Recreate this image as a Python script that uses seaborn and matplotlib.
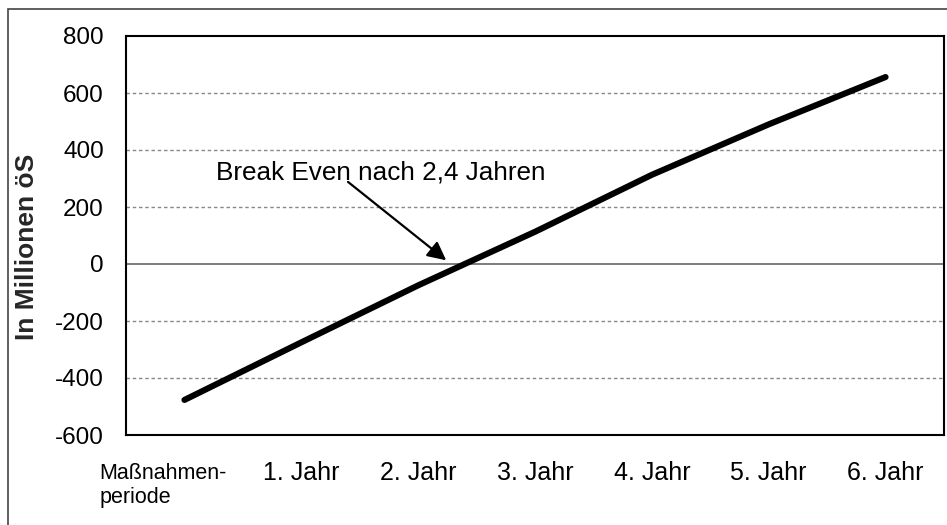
import matplotlib
matplotlib.use("Agg")
import matplotlib.pyplot as plt
import matplotlib.transforms as mtransforms
from matplotlib.patches import Rectangle
import seaborn as sns
import pandas as pd

# ---- data ----
categories = ["Maßnahmen-\nperiode", "1. Jahr", "2. Jahr", "3. Jahr", "4. Jahr", "5. Jahr", "6. Jahr"]
values = [-477, -275, -75, 113, 313, 490, 656]
y_ticks = [-600, -400, -200, 0, 200, 400, 600, 800]
y_label = "In Millionen öS"
annotation_text = "Break Even nach 2,4 Jahren"

sns.set_style("white")
plt.rcParams["font.family"] = ["Liberation Sans", "DejaVu Sans"]

df = pd.DataFrame({"pos": range(len(categories)), "value": values})

fig = plt.figure(figsize=(9.47, 5.25), dpi=100)
ax = fig.add_axes([126 / 947, 1 - 435 / 525, (944 - 126) / 947, (435 - 36) / 525])

# grid
for yt in y_ticks:
    if yt == 0:
        ax.axhline(yt, color="#666666", lw=1.2, zorder=1)
    elif yt not in (y_ticks[0], y_ticks[-1]):
        ax.axhline(yt, color="#888888", lw=1.0, linestyle=(0, (2.5, 2)), zorder=1)

sns.lineplot(data=df, x="pos", y="value", ax=ax, color="black", linewidth=4.4,
             zorder=3, legend=False)

ax.set_xlim(-0.5, len(categories) - 0.5)
ax.set_ylim(y_ticks[0], y_ticks[-1])
ax.set_yticks(y_ticks)
ax.set_yticklabels([str(v) for v in y_ticks], fontsize=17.5)
ax.tick_params(axis="y", length=6, width=1, color="#777777", pad=10, labelcolor="black")

ax.set_xticks(range(len(categories)))
ax.set_xticklabels(categories, fontsize=18)
ax.tick_params(axis="x", length=0, pad=19, labelcolor="black")
first = ax.get_xticklabels()[0]
first.set_fontsize(15.5)
first.set_multialignment("left")
first.set_linespacing(1.15)
first.set_transform(first.get_transform() + mtransforms.ScaledTranslation(-21 / 100, -2 / 100, fig.dpi_scale_trans))

ax.set_xlabel("")
ax.set_ylabel(y_label, fontsize=19, fontweight="bold")
ax.yaxis.set_label_coords((39 - 126) / 818, (435 - 247) / 399)

for s in ax.spines.values():
    s.set_visible(True)
    s.set_color("black")
    s.set_linewidth(1.5)

# annotation
ax.text(0.27, 322, annotation_text, fontsize=18.8, ha="left", va="center", color="black")
ax.annotate("", xy=(2.24, 13), xytext=(1.40, 288),
            arrowprops=dict(arrowstyle="-|>", mutation_scale=28, lw=1.6, color="black",
                            shrinkA=0, shrinkB=0))

# outer frame (partially visible)
fig.add_artist(Rectangle((7.5 / 947, -0.2), 1.3, 1 - 8.5 / 525 + 0.2, transform=fig.transFigure,
                         fill=False, edgecolor="#444444", lw=1.2))

fig.savefig("out.png", dpi=100)
